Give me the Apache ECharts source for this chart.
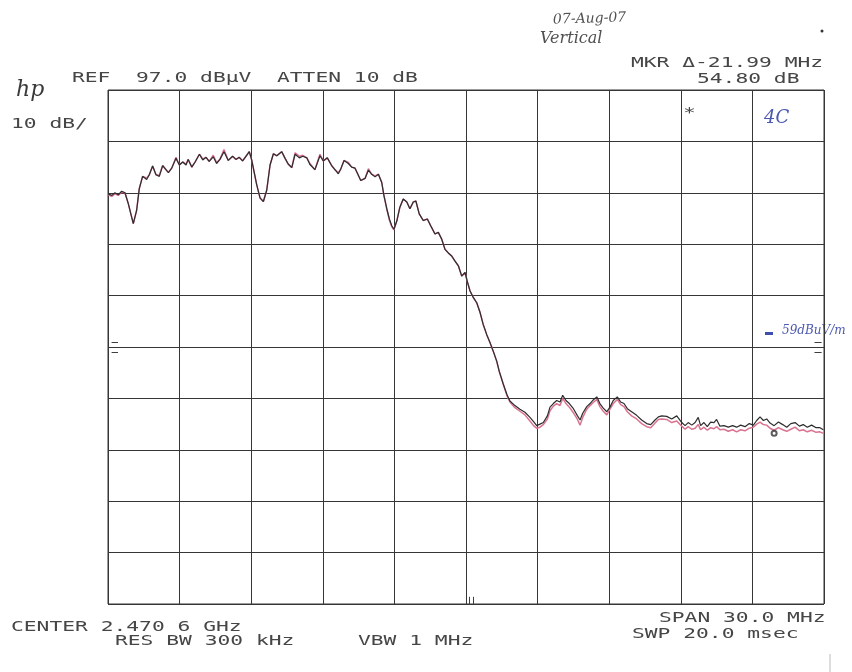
<!DOCTYPE html>
<html><head><meta charset="utf-8">
<script src="https://cdn.jsdelivr.net/npm/echarts@6/dist/echarts.min.js"></script>
<style>html,body{margin:0;padding:0;background:#fff}#c{width:852px;height:672px}</style>
</head><body><div id="c"></div>
<script>
// Frequency offset from start of sweep (MHz); sweep = 2.4706 GHz ± 15 MHz
const freqOffsetMHz = [
0.01,0.16,0.29,0.43,0.57,0.71,0.85,1.06,1.20,1.31,1.45,1.62,1.73,1.87,2.01,2.15,2.29,2.43,2.53,2.67,
2.85,2.99,3.13,3.27,3.36,3.51,3.65,3.83,3.97,4.11,4.24,4.41,4.55,4.69,4.86,5.04,5.22,5.36,5.50,5.64,
5.78,5.92,6.02,6.23,6.37,6.51,6.65,6.79,6.93,7.07,7.28,7.42,7.55,7.70,7.84,8.02,8.16,8.33,8.46,8.67,
8.88,9.02,9.19,9.37,9.51,9.65,9.75,9.89,10.07,10.21,10.35,10.45,10.59,10.77,10.91,11.05,11.19,11.33,11.47,11.56,
11.68,11.79,11.89,11.98,12.10,12.23,12.37,12.52,12.65,12.79,12.90,13.04,13.21,13.38,13.52,13.70,13.84,13.98,14.12,14.26,
14.40,14.54,14.68,14.82,14.96,15.05,15.17,15.31,15.45,15.59,15.72,15.87,16.01,16.14,16.29,16.39,16.56,16.71,16.84,17.05,
17.26,17.47,17.68,17.85,17.96,18.10,18.24,18.41,18.52,18.66,18.80,18.94,19.05,19.19,19.33,19.50,19.66,19.78,19.89,20.06,
20.20,20.33,20.48,20.61,20.75,20.90,21.03,21.17,21.34,21.48,21.62,21.76,21.94,22.15,22.36,22.57,22.74,22.92,23.06,23.20,
23.41,23.62,23.83,24.04,24.18,24.31,24.46,24.60,24.73,24.83,24.97,25.11,25.25,25.39,25.50,25.64,25.81,25.99,26.17,26.34,
26.51,26.69,26.87,27.04,27.18,27.32,27.46,27.60,27.74,27.91,28.09,28.27,28.44,28.61,28.79,28.97,29.13,29.30,29.48,29.67,
29.83,29.97
];
// Trace A (black), dBµV
const traceBlackDbuV = [
76.8,76.5,77.0,76.6,77.3,77.0,74.9,71.0,73.6,77.8,80.2,79.6,80.5,82.2,80.5,80.2,82.3,81.5,80.9,81.8,
83.7,82.4,83.0,82.4,83.5,82.0,83.0,84.5,83.4,83.9,83.1,84.0,82.7,83.5,85.0,83.3,84.1,83.5,83.9,83.2,
84.1,85.0,83.4,78.6,76.0,75.3,77.5,82.4,84.6,84.2,85.0,83.7,82.6,81.9,84.5,83.8,84.1,83.8,82.5,81.5,
84.2,83.2,83.8,82.3,81.5,80.7,81.6,83.3,82.7,82.0,81.8,80.8,79.4,79.8,81.4,80.6,80.1,80.6,79.0,76.5,
73.9,71.9,70.6,69.9,71.5,74.2,75.8,75.2,73.9,75.2,75.4,72.9,71.6,71.9,70.6,69.0,69.3,68.0,66.0,65.3,
64.7,63.7,62.8,60.8,61.5,59.8,57.9,56.6,55.6,53.7,51.4,49.4,47.8,46.2,44.2,42.3,39.8,37.8,36.5,35.6,
34.9,34.3,33.3,32.4,31.7,32.0,32.3,33.6,35.3,36.0,36.6,36.3,37.6,36.6,36.0,35.0,33.7,32.8,34.1,35.4,
36.0,36.7,37.3,36.0,35.1,34.4,35.3,36.6,37.3,36.3,36.0,35.0,34.4,33.7,32.8,32.1,31.9,32.8,33.4,33.6,
33.5,33.0,33.6,32.3,31.7,32.3,31.8,32.3,33.3,31.7,32.3,31.5,32.4,32.3,32.9,31.6,31.7,31.4,31.7,31.4,
31.8,31.5,32.1,31.8,32.7,33.4,32.7,33.0,32.2,31.7,32.4,31.9,31.4,32.1,32.3,31.6,31.9,31.4,31.8,31.3,
31.3,30.9
];
// Trace B (red/pink), dBµV
const tracePinkDbuV = [
76.6,76.3,76.8,76.5,77.1,77.0,74.9,71.0,73.6,77.8,80.2,79.9,80.5,82.2,80.5,80.4,82.3,81.5,81.0,81.8,
83.9,82.4,83.0,82.6,83.5,82.0,83.0,84.5,83.6,83.9,83.1,84.3,82.9,83.5,85.4,83.3,84.1,83.5,83.9,83.2,
84.1,85.0,83.4,78.6,76.0,75.3,77.5,82.4,84.6,84.2,85.0,83.7,82.6,81.9,84.8,84.1,84.3,83.8,82.7,81.5,
84.5,83.2,83.8,82.3,81.5,80.9,81.6,83.3,82.9,82.0,81.8,80.8,79.4,79.8,81.7,80.6,80.3,80.6,79.0,76.5,
73.9,71.7,70.4,69.8,71.5,74.2,75.8,75.2,73.9,75.2,75.4,72.9,71.6,71.9,70.6,69.0,69.3,68.0,66.0,65.3,
64.7,63.7,62.8,60.8,61.5,59.8,57.9,56.6,55.6,53.7,51.4,49.4,47.8,46.2,44.2,42.3,39.8,37.6,36.3,35.2,
34.5,33.8,32.6,31.6,31.2,31.4,31.9,33.0,34.6,35.5,36.0,35.6,37.0,36.0,35.3,34.2,33.0,31.8,33.3,34.9,
35.6,36.2,36.8,35.4,34.5,33.8,34.9,36.0,36.8,35.8,35.4,34.4,33.6,33.0,32.1,31.5,31.3,32.2,32.9,33.0,
32.9,32.3,32.6,31.6,31.0,31.5,31.0,31.2,31.9,30.9,31.4,30.8,31.3,31.1,31.5,30.9,31.0,30.6,30.9,30.5,
30.9,30.7,31.2,31.4,32.0,32.4,31.9,31.8,31.2,30.8,31.3,30.9,30.6,31.0,31.4,30.7,30.9,30.5,30.8,30.4,
30.5,30.2
];
// Delta marker position [MHz offset, dBµV]
const markerPoint = [[27.91, 30.2]];
// Axis: reference level 97 dBµV, 10 dB/div, 10 divisions; span 30 MHz, 3 MHz/div
const refLevel = 97, dbPerDiv = 10, divisions = 10;
const spanMHz = 30, mhzPerDiv = 3;

const headerLine = 'REF  97.0 dBµV  ATTEN 10 dB';
const scaleLabel = '10 dB/';
const markerLine1 = 'MKR Δ-21.99 MHz';
const markerLine2 = '54.80 dB';
const footerLeft1 = 'CENTER 2.470 6 GHz';
const footerLeft2 = 'RES BW 300 kHz';
const footerMid = 'VBW 1 MHz';
const footerRight1 = 'SPAN 30.0 MHz';
const footerRight2 = 'SWP 20.0 msec';
const noteDate = '07-Aug-07';
const noteMode = 'Vertical';
const noteChannel = '4C';
const noteLimit = '59dBuV/m';

const pair = (ys) => freqOffsetMHz.map((x, i) => [x, ys[i]]);
const INK = '#464646';
const MONO = '"DejaVu Sans Mono", monospace';
function plotText(str, x, y) {
  return {
    type: 'text', x: x, y: y, scaleX: 1.52, scaleY: 1,
    style: { text: str, fill: INK, font: '14px ' + MONO, textAlign: 'left', textVerticalAlign: 'middle' }
  };
}
const hand = '"DejaVu Serif", serif';

const chart = echarts.init(document.getElementById('c'), null, { renderer: 'canvas' });
chart.setOption({
  animation: false,
  backgroundColor: '#ffffff',
  grid: { left: 108, right: 28, top: 90, bottom: 68, show: true, borderColor: '#363636', borderWidth: 1 },
  xAxis: {
    type: 'value', min: 0, max: spanMHz, interval: mhzPerDiv,
    axisLine: { show: false }, axisTick: { show: false }, axisLabel: { show: false },
    splitLine: { show: true, lineStyle: { color: '#363636', width: 1 } }
  },
  yAxis: {
    type: 'value', min: refLevel - dbPerDiv * divisions, max: refLevel, interval: dbPerDiv,
    axisLine: { show: false }, axisTick: { show: false }, axisLabel: { show: false },
    splitLine: { show: true, lineStyle: { color: '#363636', width: 1 } }
  },
  series: [
    { name: 'Trace B', type: 'line', data: pair(tracePinkDbuV), showSymbol: false, z: 2,
      lineStyle: { color: '#d9738f', width: 1.5 } },
    { name: 'Trace A', type: 'line', data: pair(traceBlackDbuV), showSymbol: false, z: 3,
      lineStyle: { color: '#2d2d2d', width: 1.2 },
      markLine: {
        silent: true, symbol: 'none', label: { show: false },
        lineStyle: { color: '#3f3f3f', type: 'solid', width: 1 },
        data: [
          [{ coord: [0.15, 48] }, { coord: [0.42, 48] }],
          [{ coord: [0.15, 46] }, { coord: [0.42, 46] }],
          [{ coord: [29.6, 48] }, { coord: [29.9, 48] }],
          [{ coord: [29.6, 46] }, { coord: [29.9, 46] }],
          [{ coord: [15.12, -3] }, { coord: [15.12, -1.6] }],
          [{ coord: [15.3, -3] }, { coord: [15.3, -1.6] }]
        ]
      } },
    { name: 'Marker', type: 'scatter', data: markerPoint, symbol: 'emptyCircle', symbolSize: 5, z: 4,
      itemStyle: { color: '#333', borderColor: '#333', borderWidth: 1 } }
  ],
  graphic: [
    { type: 'text', x: 16, y: 90, style: { text: 'hp', font: 'italic 22px ' + hand, fill: '#3a3a3a', textVerticalAlign: 'middle' } },
    plotText(headerLine, 72, 78),
    plotText(scaleLabel, 11, 124),
    plotText(markerLine1, 631, 63),
    plotText(markerLine2, 697, 79),
    plotText(footerLeft1, 11, 627),
    plotText(footerLeft2, 115, 641),
    plotText(footerMid, 358, 641),
    plotText(footerRight1, 659, 618),
    plotText(footerRight2, 632, 634),
    plotText('*', 683, 113),
    { type: 'text', x: 553, y: 20, rotation: 0.03, style: { text: noteDate, font: 'italic 14px ' + hand, fill: '#505050', textVerticalAlign: 'middle' } },
    { type: 'text', x: 540, y: 39, style: { text: noteMode, font: 'italic 16px ' + hand, fill: '#505050', textVerticalAlign: 'middle' } },
    { type: 'text', x: 764, y: 118, style: { text: noteChannel, font: 'italic 18px ' + hand, fill: '#4a58b0', textVerticalAlign: 'middle' } },
    { type: 'rect', shape: { x: 765, y: 332, width: 8, height: 3 }, style: { fill: '#3f4fb0' } },
    { type: 'text', x: 782, y: 331, style: { text: noteLimit, font: 'italic 12px ' + hand, fill: '#4a58b0', textVerticalAlign: 'middle' } },
    { type: 'line', shape: { x1: 830, y1: 654, x2: 830, y2: 672 }, style: { stroke: '#bbb', lineWidth: 1 } },
    { type: 'circle', shape: { cx: 822, cy: 31, r: 1.5 }, style: { fill: '#333' } }
  ]
});
</script></body></html>
